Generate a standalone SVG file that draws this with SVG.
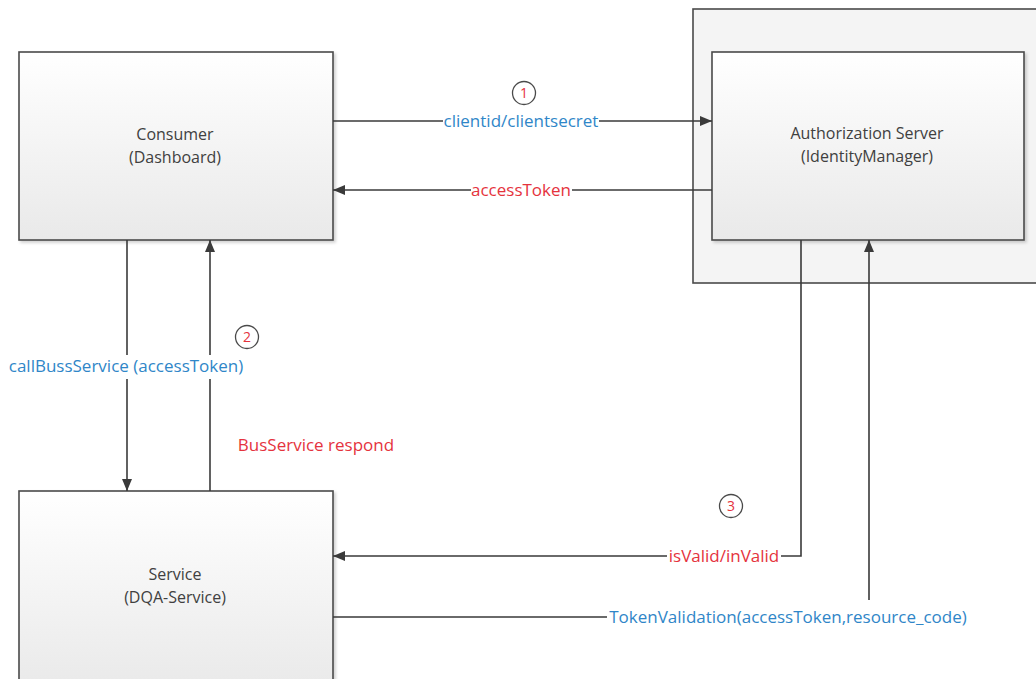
<svg xmlns="http://www.w3.org/2000/svg" width="1036" height="679" viewBox="0 0 1036 679">
  <style>
    .box { stroke: #4a4a4a; stroke-width: 1.6; fill: url(#boxFill); }
    .outer { stroke: #4a4a4a; stroke-width: 1.6; fill: #f4f4f4; }
    .name { font-family: "Open Sans", "Liberation Sans", sans-serif; font-size: 16px; fill: #404040; text-anchor: middle; }
    .wire { stroke: #3a3a3a; stroke-width: 1.6; fill: none; }
    .lbl { font-family: "Open Sans", "Liberation Sans", sans-serif; font-size: 17px; text-anchor: middle; }
    .blue { fill: #2f86c8; }
    .red { fill: #e5333d; }
    .bg { fill: #ffffff; }
    .step { fill: #ffffff; stroke: #4a4a4a; stroke-width: 1.3; }
    .num { font-family: "Open Sans", "Liberation Sans", sans-serif; font-size: 14px; fill: #e5333d; text-anchor: middle; }
  </style>
  <defs>
    <linearGradient id="boxFill" x1="0" y1="0" x2="0" y2="1">
      <stop offset="0" stop-color="#ffffff"/>
      <stop offset="1" stop-color="#e9e9e9"/>
    </linearGradient>
    <filter id="shadow" x="-5%" y="-5%" width="115%" height="115%">
      <feDropShadow dx="2" dy="2" stdDeviation="1.5" flood-color="#000" flood-opacity="0.18"/>
    </filter>
    <marker id="arrow" viewBox="0 0 12 10" refX="12" refY="5" markerWidth="12" markerHeight="10" markerUnits="userSpaceOnUse" orient="auto">
      <path d="M0,0 L12,5 L0,10 Z" fill="#3a3a3a"/>
    </marker>
  </defs>

  <rect width="1036" height="679" fill="#ffffff"/>

  <!-- Authorization server container -->
  <g id="auth-container">
    <rect class="outer" x="693" y="9" width="360" height="274"/>
  </g>

  <g id="consumer">
    <rect class="box" x="19" y="52" width="314" height="188" filter="url(#shadow)"/>
    <text class="name" x="175" y="140">Consumer</text>
    <text class="name" x="175" y="163">(Dashboard)</text>
  </g>

  <g id="auth-server">
    <rect class="box" x="712" y="52" width="312" height="188" filter="url(#shadow)"/>
    <text class="name" x="867" y="139">Authorization Server</text>
    <text class="name" x="867" y="162">(IdentityManager)</text>
  </g>

  <g id="service">
    <rect class="box" x="19" y="491" width="314" height="200" filter="url(#shadow)"/>
    <text class="name" x="175" y="580">Service</text>
    <text class="name" x="175" y="603">(DQA-Service)</text>
  </g>

  <g id="connectors">
    <!-- consumer -> auth: credentials -->
    <line class="wire" x1="333" y1="121" x2="712" y2="121" marker-end="url(#arrow)"/>
    <!-- auth -> consumer: token -->
    <line class="wire" x1="712" y1="190" x2="333" y2="190" marker-end="url(#arrow)"/>
    <!-- consumer -> service -->
    <line class="wire" x1="127" y1="240" x2="127" y2="491" marker-end="url(#arrow)"/>
    <!-- service -> consumer -->
    <line class="wire" x1="210" y1="491" x2="210" y2="240" marker-end="url(#arrow)"/>
    <!-- auth -> service: validation result -->
    <polyline class="wire" points="801,240 801,556 333,556" marker-end="url(#arrow)"/>
    <!-- service -> auth: validation request -->
    <polyline class="wire" points="333,617 869,617 869,240" marker-end="url(#arrow)"/>
  </g>

  <g id="labels">
    <rect class="bg" x="443" y="110" width="156" height="22"/>
    <text class="lbl blue" x="521" y="127">clientid/clientsecret</text>

    <rect class="bg" x="471" y="179" width="101" height="22"/>
    <text class="lbl red" x="521" y="196">accessToken</text>

    <rect class="bg" x="8" y="355" width="236" height="24"/>
    <text class="lbl blue" x="126" y="372">callBussService (accessToken)</text>

    <text class="lbl red" x="316" y="451">BusService respond</text>

    <rect class="bg" x="667" y="545" width="114" height="22"/>
    <text class="lbl red" x="724" y="562">isValid/inValid</text>

    <rect class="bg" x="607" y="600" width="362" height="26"/>
    <text class="lbl blue" x="788" y="623">TokenValidation(accessToken,resource_code)</text>
  </g>

  <g id="steps">
    <circle class="step" cx="524" cy="93" r="11.5"/>
    <text class="num" x="524" y="98">1</text>
    <circle class="step" cx="247" cy="337" r="11.5"/>
    <text class="num" x="247" y="342">2</text>
    <circle class="step" cx="731" cy="506" r="11.5"/>
    <text class="num" x="731" y="511">3</text>
  </g>
</svg>
